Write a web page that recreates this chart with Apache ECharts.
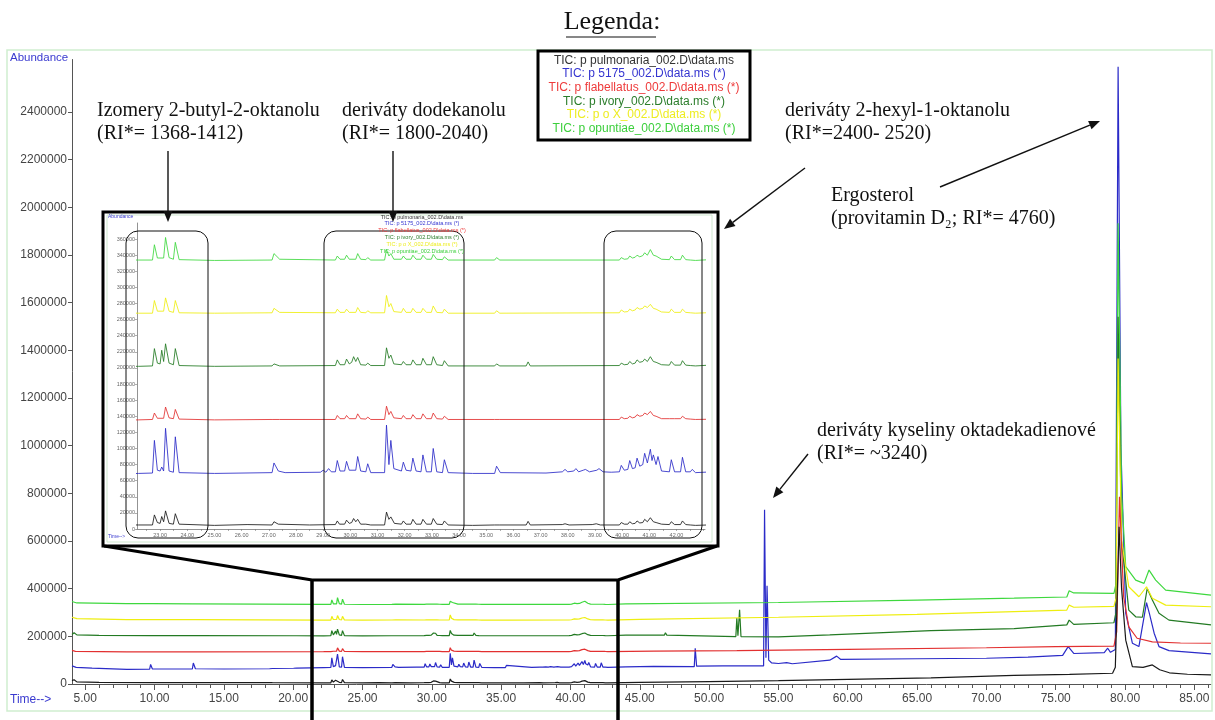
<!DOCTYPE html>
<html>
<head>
<meta charset="utf-8">
<title>TIC chromatogramy</title>
<script src="https://cdn.jsdelivr.net/npm/echarts@6/dist/echarts.min.js"></script>
<style>
  html, body { margin: 0; padding: 0; background: #fff; }
  #chart { width: 1215px; height: 720px; }
</style>
</head>
<body>
<div id="chart"></div>
<script>
// tick labels
var timeTicks = [5, 10, 15, 20, 25, 30, 35, 40, 45, 50, 55, 60, 65, 70, 75, 80, 85];
var abundanceTicks = [0, 200000, 400000, 600000, 800000, 1000000, 1200000, 1400000, 1600000, 1800000, 2000000, 2200000, 2400000];
var insetTimeTicks = [23, 24, 25, 26, 27, 28, 29, 30, 31, 32, 33, 34, 35, 36, 37, 38, 39, 40, 41, 42];
var insetAbundanceTicks = [0, 20000, 40000, 60000, 80000, 100000, 120000, 140000, 160000, 180000, 200000, 220000, 240000, 260000, 280000, 300000, 320000, 340000, 360000];

var sampleNames = [
  'TIC: p pulmonaria_002.D\\data.ms',
  'TIC: p 5175_002.D\\data.ms (*)',
  'TIC: p flabellatus_002.D\\data.ms (*)',
  'TIC: p ivory_002.D\\data.ms (*)',
  'TIC: p o X_002.D\\data.ms (*)',
  'TIC: p opuntiae_002.D\\data.ms (*)'
];

// [time (min), abundance]
var pulmonaria = [
  [4.05, 14000], [4.2, 18000], [4.4, 9000], [6, 7000], [9.65, 6000], [9.72, 9000], [9.85, 6000],
  [12.73, 6000], [12.8, 10000], [12.95, 6000], [18.3, 6000], [18.37, 8000], [18.5, 5500], [22.2, 5000],
  [22.72, 5000], [22.79, 17500], [22.9, 8000], [23.0, 7000], [23.06, 15500], [23.13, 9000], [23.2, 22500], [23.33, 7000], [23.49, 6000], [23.56, 19000], [23.7, 6000],
  [25.0, 4500], [26.2, 5500], [27.12, 5000], [27.19, 9000], [27.35, 6000], [28.5, 5000], [29.45, 5500],
  [29.52, 10000], [29.6, 6000], [29.79, 6000], [29.86, 11000], [29.96, 7000], [30.05, 8000], [30.12, 13000], [30.2, 9000], [30.27, 12000], [30.38, 6000], [30.57, 6000], [30.64, 8000], [30.75, 5000],
  [31.26, 5000], [31.33, 21000], [31.42, 12000], [31.49, 15000], [31.62, 7000], [31.88, 6000], [31.95, 10000], [32.05, 6000], [32.23, 6000], [32.3, 12000], [32.42, 6000], [32.6, 6000], [32.67, 12000], [32.8, 6000], [32.98, 6000], [33.05, 13000], [33.18, 6000], [33.39, 5500], [33.46, 10000], [33.6, 5000],
  [34.5, 4500], [35.31, 5000], [35.38, 6500], [35.5, 5000], [36.47, 5000], [36.54, 9500], [36.62, 5000],
  [37.8, 5500], [37.9, 6500], [38.05, 5000], [38.9, 5500], [39.05, 6500], [39.2, 5000],
  [39.9, 5000], [39.97, 8000], [40.08, 6000], [40.21, 6000], [40.28, 9000], [40.38, 6500], [40.48, 7000], [40.55, 10000], [40.65, 7500], [40.76, 8000], [40.83, 12000], [40.93, 9000], [41.04, 14000], [41.15, 9000], [41.25, 8000], [41.32, 10000], [41.45, 6000], [41.74, 5500], [41.81, 9000], [41.93, 5500], [42.15, 5500], [42.22, 10000], [42.34, 5500], [42.51, 5000], [42.58, 6500], [42.7, 4500],
  [45, 7000], [50, 10000], [55, 14000], [60, 19000], [66, 26000], [72, 36000], [76, 40000], [79.1, 45000], [79.3, 70000], [79.57, 660000], [79.75, 400000], [80.05, 184000], [80.53, 73000], [81.3, 70000], [81.97, 80000], [82.5, 60000], [83.2, 47000], [84.5, 41000], [86.2, 38000]
];

var p5175 = [
  [4.05, 76000], [4.15, 84000], [4.35, 70000], [5.5, 67000], [8, 61000], [9.65, 62000], [9.72, 82000], [9.85, 63000],
  [12.73, 63000], [12.8, 88000], [12.95, 64000], [15, 63000], [18.3, 64000], [18.37, 72000], [18.5, 65000],
  [20.03, 66000], [20.1, 74000], [20.25, 67000], [22.2, 69000],
  [22.72, 69500], [22.79, 110000], [22.9, 73000], [23.0, 72000], [23.06, 77000], [23.13, 72000], [23.2, 125000], [23.33, 72000], [23.49, 70500], [23.56, 114500], [23.7, 70000],
  [25, 69000], [27.12, 70000], [27.19, 82000], [27.35, 72000], [27.6, 70000], [28.9, 70500], [29.0, 73000], [29.1, 70500], [29.2, 75000], [29.3, 71000],
  [29.45, 71000], [29.52, 85000], [29.62, 72000], [29.79, 72000], [29.86, 84000], [29.96, 73000], [30.2, 73000], [30.27, 90000], [30.38, 72000], [30.57, 71000], [30.64, 81000], [30.75, 70000],
  [31.26, 70000], [31.33, 129000], [31.42, 80000], [31.49, 110000], [31.6, 75000], [31.88, 72000], [31.95, 83000], [32.05, 73000], [32.23, 72000], [32.3, 88000], [32.42, 72000], [32.6, 71000], [32.67, 92000], [32.8, 71000], [32.98, 71000], [33.05, 100000], [33.18, 71000], [33.39, 70000], [33.46, 86000], [33.6, 70000],
  [34.5, 69000], [35.31, 69000], [35.38, 78000], [35.52, 70000], [37.2, 69500], [37.8, 71000], [37.9, 74000], [38.0, 71000], [38.22, 72000], [38.3, 75000], [38.4, 71000], [38.57, 73000], [38.65, 74000], [38.8, 71000], [39.07, 73000], [39.15, 75000], [39.3, 71000], [39.6, 70500],
  [39.9, 71000], [39.97, 79000], [40.08, 73000], [40.21, 74000], [40.28, 85000], [40.38, 75000], [40.48, 76000], [40.55, 88000], [40.65, 78000], [40.76, 80000], [40.83, 94000], [40.93, 82000], [41.04, 99000], [41.1, 85000], [41.15, 92000], [41.25, 80000], [41.32, 90000], [41.45, 72000], [41.74, 71000], [41.81, 86000], [41.93, 71000], [42.15, 71000], [42.22, 89000], [42.34, 71000], [42.51, 71000], [42.58, 74000], [42.7, 70000],
  [44, 72000], [46, 74000], [48.93, 73000], [49.0, 150000], [49.1, 75000], [51, 76000], [53.93, 76000], [54.0, 731000], [54.1, 110000], [54.18, 412000], [54.3, 100000], [54.5, 89000], [55, 86000], [55.6, 90000], [56, 85000], [58.7, 100000], [59.2, 117000], [59.5, 103000], [65, 106000], [70, 108000], [73, 113000], [75.5, 120000], [75.9, 157000], [76.3, 128000], [78.5, 132000], [78.75, 150000], [78.95, 133000], [79.3, 145000], [79.5, 2590000], [79.7, 1000000], [80.05, 297000], [80.53, 171000], [81.0, 157000], [81.55, 341000], [81.75, 297000], [82.1, 213000], [82.45, 157000], [83.17, 140000], [86.2, 126000]
];

var flabellatus = [
  [4.05, 141000], [4.3, 137000], [8, 135000], [9.65, 135000], [9.72, 138000], [9.85, 135000], [12.73, 135000], [12.8, 139000], [12.95, 135000], [22.2, 135500],
  [22.72, 136000], [22.79, 144000], [22.9, 137500], [23.13, 137500], [23.2, 151500], [23.33, 138000], [23.49, 137000], [23.56, 148500], [23.7, 136500],
  [25, 135500], [27.12, 136000], [27.19, 138000], [27.4, 136000], [29.45, 136000],
  [29.52, 141000], [29.62, 137000], [29.79, 137000], [29.86, 141000], [29.96, 137000], [30.2, 137000], [30.27, 143000], [30.38, 137000], [30.57, 136500], [30.64, 139000], [30.75, 136000],
  [31.26, 136000], [31.33, 152500], [31.42, 142000], [31.49, 146000], [31.6, 138000], [31.88, 137000], [31.95, 141000], [32.05, 137000], [32.23, 137000], [32.3, 142000], [32.42, 137000], [32.6, 137000], [32.67, 143000], [32.8, 137000], [32.98, 137000], [33.05, 144000], [33.18, 137000], [33.39, 136500], [33.46, 140000], [33.6, 136000],
  [35.31, 136000], [35.38, 137500], [35.5, 136000],
  [39.9, 136000], [39.97, 139000], [40.08, 137000], [40.21, 137500], [40.28, 140000], [40.38, 138000], [40.48, 139000], [40.55, 142000], [40.65, 140000], [40.76, 141000], [40.83, 144000], [40.93, 142000], [41.04, 146000], [41.15, 141000], [41.25, 140000], [41.32, 141000], [41.45, 137000], [41.74, 137000], [41.81, 139000], [41.93, 137000], [42.15, 137000], [42.22, 140000], [42.34, 137000], [42.51, 136500], [42.58, 137500], [42.7, 136000],
  [46, 138000], [52, 140000], [60, 145000], [70, 152000], [75, 157000], [79.2, 159000], [79.4, 220000], [79.6, 786000], [79.9, 366000], [80.27, 240000], [80.87, 192000], [81.97, 177000], [84, 172000], [86.2, 171000]
];

var ivory = [
  [4.05, 208000], [4.2, 215000], [4.4, 206000], [6, 204000], [9.65, 203000], [9.72, 208000], [9.85, 203000], [12.73, 203000], [12.8, 209000], [12.95, 203000], [20.0, 202500], [20.1, 206000], [20.25, 202500], [22.2, 202000],
  [22.72, 202500], [22.79, 224000], [22.9, 206000], [23.0, 205000], [23.06, 222000], [23.13, 208000], [23.2, 230000], [23.33, 206000], [23.49, 204000], [23.56, 224000], [23.7, 203000],
  [25, 202000], [27.12, 202500], [27.19, 205000], [27.4, 202500], [29.45, 203000],
  [29.52, 210000], [29.62, 204000], [29.79, 204000], [29.86, 211000], [29.96, 205000], [30.05, 207000], [30.12, 214000], [30.2, 208000], [30.27, 213000], [30.38, 204000], [30.57, 203500], [30.64, 206000], [30.75, 203000],
  [31.26, 203000], [31.33, 225000], [31.42, 212000], [31.49, 216000], [31.6, 205000], [31.88, 204000], [31.95, 208000], [32.05, 204000], [32.23, 204000], [32.3, 210000], [32.42, 204000], [32.6, 204000], [32.67, 212000], [32.8, 204000], [32.98, 204000], [33.05, 214000], [33.18, 204000], [33.39, 203000], [33.46, 209000], [33.6, 202500],
  [35.31, 202500], [35.38, 205000], [35.5, 202500], [36.47, 202500], [36.54, 207500], [36.62, 202500],
  [39.9, 203000], [39.97, 206000], [40.08, 204000], [40.21, 204500], [40.28, 208000], [40.38, 205000], [40.48, 206000], [40.55, 210000], [40.65, 207000], [40.76, 208000], [40.83, 211000], [40.93, 208000], [41.04, 214000], [41.15, 208000], [41.25, 207000], [41.32, 209000], [41.45, 204000], [41.74, 203500], [41.81, 208000], [41.93, 203500], [42.15, 203500], [42.22, 209000], [42.34, 203500], [42.51, 203000], [42.58, 204000], [42.7, 202500],
  [44, 205000], [46.77, 205000], [46.85, 215000], [46.95, 205000], [51.93, 199000], [52.0, 277000], [52.08, 203000], [52.14, 203000], [52.2, 311000], [52.3, 199000], [55, 198000], [58.7, 206000], [66, 224000], [72, 232000], [75.8, 248000], [75.97, 268000], [76.3, 250000], [79.2, 257000], [79.35, 300000], [79.5, 1541000], [79.75, 600000], [80.27, 310000], [80.77, 282000], [81.25, 280000], [81.6, 401000], [81.97, 352000], [82.45, 297000], [83.17, 268000], [86.2, 248000]
];

var oX = [
  [4.05, 280000], [4.4, 274000], [8, 270000], [9.65, 270000], [9.72, 273000], [9.85, 270000], [12.73, 270000], [12.8, 274000], [12.95, 270000], [22.2, 268000],
  [22.72, 268000], [22.79, 283700], [22.9, 270500], [23.13, 270500], [23.2, 287000], [23.33, 270500], [23.49, 269000], [23.56, 283700], [23.7, 268500],
  [25, 268000], [27.12, 268500], [27.19, 274000], [27.4, 269000], [29.45, 268500],
  [29.52, 273000], [29.62, 269000], [29.79, 269000], [29.86, 273000], [29.96, 269000], [30.2, 269000], [30.27, 275000], [30.38, 269000], [30.57, 268500], [30.64, 271000], [30.75, 268500],
  [31.26, 268500], [31.33, 290000], [31.42, 276000], [31.49, 280000], [31.6, 270000], [31.88, 269000], [31.95, 274000], [32.05, 269000], [32.23, 269000], [32.3, 274000], [32.42, 269000], [32.6, 269000], [32.67, 274000], [32.8, 269000], [32.98, 269000], [33.05, 277000], [33.18, 269000], [33.39, 268500], [33.46, 273000], [33.6, 268000],
  [35.31, 268000], [35.38, 271000], [35.5, 268000],
  [39.9, 268500], [39.97, 272000], [40.08, 269500], [40.21, 270000], [40.28, 273000], [40.38, 271000], [40.48, 272000], [40.55, 275000], [40.65, 273000], [40.76, 274000], [40.83, 277000], [40.93, 275000], [41.04, 279000], [41.15, 274000], [41.25, 273000], [41.32, 274000], [41.45, 269500], [41.74, 269000], [41.81, 273000], [41.93, 269000], [42.15, 269000], [42.22, 273000], [42.34, 269000], [42.51, 268500], [42.58, 270000], [42.7, 268000],
  [45, 271000], [55, 280000], [65, 292000], [72, 304000], [75.8, 310000], [75.97, 331000], [76.3, 322000], [79.2, 326000], [79.35, 360000], [79.5, 1366000], [79.75, 600000], [80.27, 408000], [81.0, 366000], [81.55, 408000], [81.97, 360000], [82.93, 331000], [86.2, 324000]
];

var opuntiae = [
  [4.05, 346000], [4.4, 340000], [8, 337000], [9.65, 337000], [9.72, 341000], [9.85, 337000], [12.73, 336500], [12.8, 341000], [12.95, 336500], [22.2, 334000],
  [22.72, 334000], [22.79, 353000], [22.9, 336500], [23.13, 336500], [23.2, 362000], [23.33, 337000], [23.49, 335000], [23.56, 356000], [23.7, 334500],
  [25, 333500], [27.12, 334000], [27.19, 342000], [27.4, 335000], [29.45, 334000],
  [29.52, 339000], [29.62, 335000], [29.79, 335000], [29.86, 340000], [29.96, 335000], [30.2, 335000], [30.27, 342000], [30.38, 335000], [30.57, 334500], [30.64, 337000], [30.75, 334000],
  [31.26, 334000], [31.33, 347000], [31.42, 339000], [31.49, 342000], [31.6, 335000], [31.88, 335000], [31.95, 339000], [32.05, 335000], [32.23, 335000], [32.3, 340000], [32.42, 335000], [32.6, 335000], [32.67, 340000], [32.8, 335000], [32.98, 335000], [33.05, 341000], [33.18, 335000], [33.39, 334500], [33.46, 338000], [33.6, 334000],
  [35.31, 334000], [35.38, 337000], [35.5, 334000],
  [39.9, 334000], [39.97, 337000], [40.08, 335000], [40.21, 335500], [40.28, 339000], [40.38, 336500], [40.48, 337500], [40.55, 340000], [40.65, 338000], [40.76, 339500], [40.83, 343000], [40.93, 340000], [41.04, 347000], [41.15, 340000], [41.25, 339000], [41.32, 340000], [41.45, 335000], [41.74, 334500], [41.81, 339000], [41.93, 334500], [42.15, 334500], [42.22, 340000], [42.34, 334500], [42.51, 334000], [42.58, 336000], [42.7, 333500],
  [44, 336000], [55, 342000], [65, 352000], [72, 360000], [75.8, 365000], [75.97, 391000], [76.3, 382000], [79.2, 380000], [79.35, 420000], [79.5, 1933000], [79.75, 800000], [80.05, 492000], [80.77, 436000], [81.37, 422000], [81.73, 478000], [82.21, 436000], [82.93, 394000], [86.2, 373000]
];

var traces = [
  { data: pulmonaria, color: '#1a1a1a', z: 8 },
  { data: p5175, color: '#2b2bc8', z: 3 },
  { data: flabellatus, color: '#e23030', z: 7 },
  { data: ivory, color: '#237a23', z: 5 },
  { data: oX, color: '#eeee10', z: 6 },
  { data: opuntiae, color: '#3ed83e', z: 4 }
];
var legendColors = ['#333333', '#3434d0', '#ee3b3b', '#2b7d2b', '#eded22', '#3ccf3c'];

var minorTimes = [];
for (var m = 5; m <= 86; m++) minorTimes.push(m);
var insetMinor = [];
for (var k = 22.5; k <= 43; k += 0.5) insetMinor.push(k);

var chart = echarts.init(document.getElementById('chart'));

var series = [];
traces.forEach(function (t) {
  series.push({
    type: 'line', xAxisIndex: 0, yAxisIndex: 0, data: t.data, z: t.z,
    showSymbol: false, symbol: 'none', silent: true, animation: false,
    lineStyle: { color: t.color, width: 1.2 }
  });
  series.push({
    type: 'line', xAxisIndex: 1, yAxisIndex: 1, data: t.data, z: t.z + 10,
    showSymbol: false, symbol: 'none', silent: true, animation: false, clip: true,
    lineStyle: { color: t.color, width: 1, opacity: 0.85 }
  });
});

function arrow(x1, y1, x2, y2) {
  var a = Math.atan2(y2 - y1, x2 - x1), len = 11, w = 4.5;
  var bx = x2 - len * Math.cos(a), by = y2 - len * Math.sin(a);
  return [
    { type: 'line', z: 40, shape: { x1: x1, y1: y1, x2: bx, y2: by }, style: { stroke: '#111', lineWidth: 1.4 } },
    { type: 'polygon', z: 40, shape: { points: [[x2, y2], [bx + w * Math.sin(a), by - w * Math.cos(a)], [bx - w * Math.sin(a), by + w * Math.cos(a)]] }, style: { fill: '#111' } }
  ];
}
function note(x, y, text) {
  return { type: 'text', x: x, y: y, z: 40, style: { text: text, font: '20px "Liberation Serif"', fill: '#111', lineHeight: 23, verticalAlign: 'top' } };
}
function frame(x, y, w, h, r, lw, color, z) {
  return { type: 'rect', z: z, shape: { x: x, y: y, width: w, height: h, r: r }, style: { fill: null, stroke: color, lineWidth: lw } };
}

var gfx = [
  // outer frame of the main chromatogram
  frame(7, 50, 1205, 661, 0, 1.5, '#cfeecf', 1),
  { type: 'text', x: 10, y: 58, z: 40, style: { text: 'Abundance', font: '11.5px "Liberation Sans"', fill: '#3a3ad0', verticalAlign: 'middle' } },
  { type: 'text', x: 10, y: 700, z: 40, style: { text: 'Time-->', font: '12px "Liberation Sans"', fill: '#3a3ad0', verticalAlign: 'middle' } },
  // legend
  { type: 'text', x: 612, y: 22, z: 40, style: { text: 'Legenda:', font: '26px "Liberation Serif"', fill: '#111', align: 'center', verticalAlign: 'middle' } },
  { type: 'line', z: 40, shape: { x1: 566, y1: 37, x2: 656, y2: 37 }, style: { stroke: '#111', lineWidth: 1.2 } },
  { type: 'rect', z: 39, shape: { x: 538, y: 51, width: 212, height: 89 }, style: { fill: '#fff', stroke: '#000', lineWidth: 3 } },
  // inset panel
  { type: 'rect', z: -1, shape: { x: 103, y: 212, width: 615, height: 334 }, style: { fill: '#fff', stroke: null } },
  frame(107, 215, 605, 327, 0, 1, '#cfe8cf', 30),
  frame(103, 212, 615, 334, 0, 3, '#000', 31),
  { type: 'text', x: 108, y: 217, z: 30, style: { text: 'Abundance', font: '5px "Liberation Sans"', fill: '#3a3ad0', verticalAlign: 'middle' } },
  { type: 'text', x: 108, y: 537, z: 30, style: { text: 'Time-->', font: '5px "Liberation Sans"', fill: '#3a3ad0', verticalAlign: 'middle' } },
  frame(126, 231, 82, 307, 12, 1, '#111', 30),
  frame(324, 231, 140, 307, 12, 1, '#111', 30),
  frame(604, 231, 98, 307, 12, 1, '#111', 30),
  // zoom box
  { type: 'polyline', z: 31, shape: { points: [[104, 546], [312, 580], [618, 580], [717, 546]] }, style: { stroke: '#000', lineWidth: 3, fill: null } },
  { type: 'line', z: 31, shape: { x1: 312, y1: 579, x2: 312, y2: 720 }, style: { stroke: '#000', lineWidth: 3.5 } },
  { type: 'line', z: 31, shape: { x1: 618, y1: 579, x2: 618, y2: 720 }, style: { stroke: '#000', lineWidth: 3.5 } },
  // annotations
  note(97, 99, 'Izomery 2-butyl-2-oktanolu\n(RI*= 1368-1412)'),
  note(342, 99, 'deriváty dodekanolu\n(RI*= 1800-2040)'),
  note(785, 99, 'deriváty 2-hexyl-1-oktanolu\n(RI*=2400- 2520)'),
  note(831, 184, 'Ergosterol\n(provitamin D\u2082; RI*= 4760)'),
  note(817, 419, 'deriváty kyseliny oktadekadienové\n(RI*= ~3240)')
];
sampleNames.forEach(function (name, i) {
  gfx.push({ type: 'text', x: 644, y: 60.5 + i * 13.6, z: 41, style: { text: name, font: '12px "Liberation Sans"', fill: legendColors[i], align: 'center', verticalAlign: 'middle' } });
  gfx.push({ type: 'text', x: 422, y: 217 + i * 6.9, z: 30, style: { text: name, font: '5.5px "Liberation Sans"', fill: legendColors[i], align: 'center', verticalAlign: 'middle' } });
});
gfx = gfx.concat(arrow(168, 151, 168, 222), arrow(393, 151, 393, 222), arrow(805, 168, 724, 229),
  arrow(940, 187, 1100, 121), arrow(808, 454, 773, 498));

var axisColor = '#555';
chart.setOption({
  animation: false,
  backgroundColor: '#fff',
  grid: [
    { left: 72, right: 4, top: 59.5, bottom: 36 },
    { left: 137, top: 223, width: 568, height: 306, z: 1 }
  ],
  xAxis: [
    {
      type: 'value', gridIndex: 0, min: 4.05, max: 86.2,
      axisLine: { onZero: false, lineStyle: { color: axisColor } },
      axisTick: { customValues: minorTimes, length: 4, lineStyle: { color: axisColor } },
      axisLabel: { customValues: timeTicks, formatter: function (v) { return v.toFixed(2); }, fontSize: 12, fontFamily: 'Liberation Sans', color: '#444', margin: 9 },
      splitLine: { show: false }
    },
    {
      type: 'value', gridIndex: 1, min: 22.15, max: 43.05, z: 1,
      axisLine: { onZero: false, lineStyle: { color: '#777', width: 0.8 } },
      axisTick: { customValues: insetMinor, length: 2, lineStyle: { color: '#777', width: 0.6 } },
      axisLabel: { customValues: insetTimeTicks, formatter: function (v) { return v.toFixed(2); }, fontSize: 5.5, fontFamily: 'Liberation Sans', color: '#666', margin: 3 },
      splitLine: { show: false }
    },
    {
      type: 'value', gridIndex: 0, min: 4.05, max: 86.2, position: 'bottom',
      axisLine: { show: false },
      axisTick: { customValues: timeTicks, length: 6, lineStyle: { color: axisColor } },
      axisLabel: { show: false },
      splitLine: { show: false }
    }
  ],
  yAxis: [
    {
      type: 'value', gridIndex: 0, min: 0, max: 2620000,
      axisLine: { show: true, lineStyle: { color: axisColor } },
      axisTick: { show: true, customValues: abundanceTicks, length: 4, lineStyle: { color: axisColor } },
      axisLabel: { customValues: abundanceTicks, formatter: function (v) { return String(v); }, fontSize: 12, fontFamily: 'Liberation Sans', color: '#444', margin: 5 },
      splitLine: { show: false }
    },
    {
      type: 'value', gridIndex: 1, min: 0, max: 380000, z: 1,
      axisLine: { show: true, lineStyle: { color: '#777', width: 0.8 } },
      axisTick: { show: true, customValues: insetAbundanceTicks, length: 2, lineStyle: { color: '#777', width: 0.6 } },
      axisLabel: { customValues: insetAbundanceTicks, formatter: function (v) { return String(v); }, fontSize: 5.5, fontFamily: 'Liberation Sans', color: '#666', margin: 2 },
      splitLine: { show: false }
    }
  ],
  series: series,
  graphic: { elements: gfx }
});
</script>
</body>
</html>
